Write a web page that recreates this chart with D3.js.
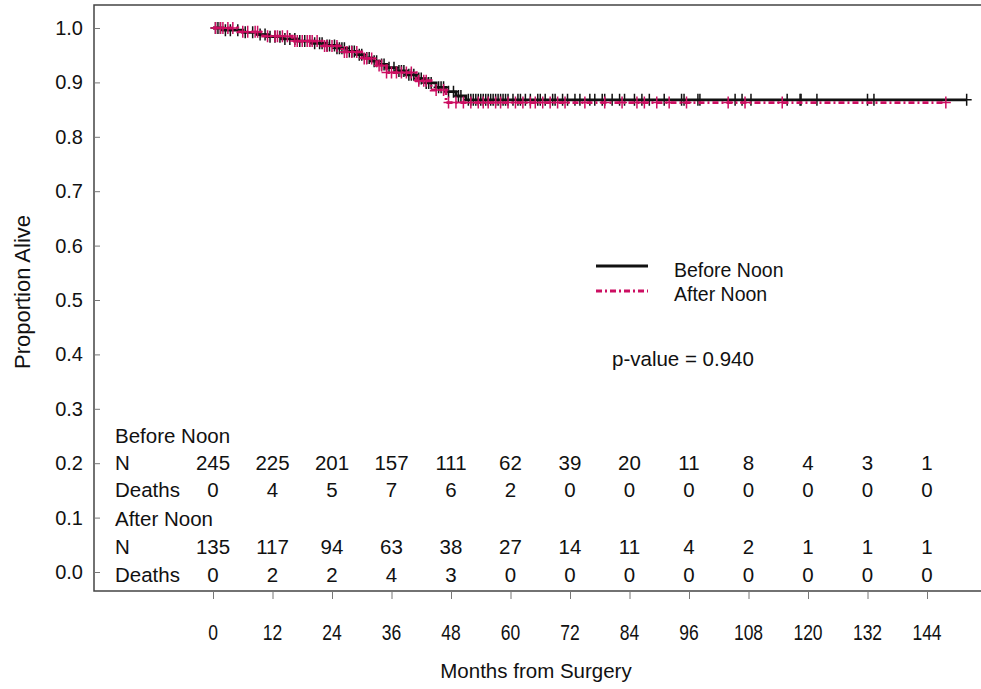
<!DOCTYPE html>
<html>
<head>
<meta charset="utf-8">
<script src="https://cdn.jsdelivr.net/npm/d3@7"></script>
<style>
  body { margin: 0; background: #fff; }
  text { font-family: Arial, "Liberation Sans", Helvetica, sans-serif; fill: #111; }
</style>
</head>
<body>
<div class="chart"></div>
<script>
const width = 981, height = 689;

// tick labels
const monthTicks = [0, 12, 24, 36, 48, 60, 72, 84, 96, 108, 120, 132, 144];
const propTicks = [0, 0.1, 0.2, 0.3, 0.4, 0.5, 0.6, 0.7, 0.8, 0.9, 1.0];

// number at risk / deaths table
const beforeN = [245, 225, 201, 157, 111, 62, 39, 20, 11, 8, 4, 3, 1];
const beforeDeaths = [0, 4, 5, 7, 6, 2, 0, 0, 0, 0, 0, 0, 0];
const afterN = [135, 117, 94, 63, 38, 27, 14, 11, 4, 2, 1, 1, 1];
const afterDeaths = [0, 2, 2, 4, 3, 0, 0, 0, 0, 0, 0, 0, 0];

// Kaplan-Meier steps (month of death, survival after)
const beforeTimes = [0, 2, 6, 9, 11, 14, 17, 20, 23, 25, 27, 29, 30.5, 32, 33.5, 35, 37, 39, 41, 43, 45, 47, 49, 51, 152];
const beforeSurv = [1, 0.996, 0.992, 0.988, 0.984, 0.980, 0.976, 0.972, 0.968, 0.963, 0.957, 0.951, 0.945, 0.939, 0.933, 0.927, 0.921, 0.914, 0.907, 0.899, 0.891, 0.883, 0.875, 0.868, 0.868];
const afterTimes = [0, 5, 10, 16, 22, 26, 30, 33, 35, 41, 44, 47, 147.8];
const afterSurv = [1, 0.993, 0.985, 0.976, 0.967, 0.956, 0.944, 0.931, 0.918, 0.903, 0.886, 0.863, 0.863];

// censored times
const beforeCensor = [0.5, 1, 1.5, 2.5, 3.5, 5, 6.5, 8, 9.5, 10.5, 11.5,
  12.5, 13.5, 14.5, 15.5, 16.5, 17.5, 18.5, 19.5, 20.5, 21.5, 22, 23, 23.5,
  24.5, 25, 25.5, 26, 26.5, 27.5, 28, 28.5, 29.5, 30, 31, 31.5, 32.5, 33, 34, 34.5, 35.5,
  36.5, 37.5, 38, 38.5, 39.5, 40, 40.5, 41.5, 42, 43, 43.5, 44, 45.5, 46, 46.5, 47.5,
  48.5, 49.5, 50, 51.5, 52, 52.5, 53, 53.5, 54, 54.5, 55, 55.5, 56, 56.5, 57, 57.5, 58, 58.5, 59, 59.5,
  60.5, 61.5, 62, 63, 64, 65.5, 66, 67, 68.5, 69, 70.5, 71.5,
  73, 74, 76, 77, 78.5, 79, 80.5, 82, 83,
  85, 86.5, 88, 91, 94.5, 95,
  97.8, 98.2, 105.3, 106.7,
  108.5, 115.8, 118.4, 118.6, 121.8, 132, 133.3, 152];
const afterCensor = [0.5, 1.5, 2, 3, 4, 6, 7, 8.5, 9, 11,
  12.5, 13, 14, 15, 16.5, 17, 18, 19, 19.5, 20, 21, 22.5, 23,
  24, 25, 26.5, 27, 28, 29, 30.5, 31, 32, 33.5, 34, 35,
  36, 37, 38, 39, 40, 41.5, 42.5, 43, 45, 46.5, 47.5,
  49, 50.5, 52, 53.5, 54.5, 55.5, 57, 58, 59.5,
  61, 62.5, 64, 65, 66.5, 68, 69.5, 71,
  75, 79, 82.5,
  85.5, 87, 89.5, 92, 95.5,
  103.9, 107.3, 114.8, 147.8];

const black = "#111111", pink = "#cc0f62";

const svg = d3.select(".chart").append("svg")
  .attr("width", width)
  .attr("height", height);

const x = d3.scaleLinear().domain([0, 144]).range([213, 927]);
const y = d3.scaleLinear().domain([0, 1]).range([572, 28]);

const frameLeft = 94, frameTop = 5, frameBottom = 591;

// frame
svg.append("path")
  .attr("d", `M${width + 5},${frameTop} H${frameLeft} V${frameBottom} H${width + 5}`)
  .attr("fill", "none")
  .attr("stroke", "#444")
  .attr("stroke-width", 1.5);

// y axis (ticks inside)
const yAxis = svg.append("g")
  .attr("transform", `translate(${frameLeft},0)`)
  .call(d3.axisLeft(y).tickValues(propTicks).tickSize(-6).tickPadding(11).tickFormat(d3.format(".1f")));
yAxis.select(".domain").remove();
yAxis.selectAll(".tick line").attr("stroke", "#777");
yAxis.selectAll(".tick text")
  .style("font-size", "20px")
  .attr("fill", "#111")
  .attr("font-family", null);

// x axis (ticks outside, labels drawn separately)
const xAxis = svg.append("g")
  .attr("transform", `translate(0,${frameBottom})`)
  .call(d3.axisBottom(x).tickValues(monthTicks).tickSize(8).tickFormat(""));
xAxis.select(".domain").remove();
xAxis.selectAll(".tick line").attr("stroke", "#777");

svg.selectAll("text.xlab")
  .data(monthTicks)
  .enter()
  .append("text")
    .attr("class", "xlab")
    .attr("transform", d => `translate(${x(d)},640) scale(1,1.3)`)
    .attr("text-anchor", "middle")
    .style("font-size", "17.5px")
    .text(d => d);

// axis titles
svg.append("text")
  .attr("x", 536).attr("y", 678)
  .attr("text-anchor", "middle")
  .style("font-size", "20.5px")
  .text("Months from Surgery");

svg.append("text")
  .attr("transform", "translate(30,292) rotate(-90)")
  .attr("text-anchor", "middle")
  .style("font-size", "22px")
  .text("Proportion Alive");

// curves
const stepLine = d3.line()
  .x(d => x(d[0]))
  .y(d => y(d[1]))
  .curve(d3.curveStepAfter);

function survAt(times, surv, t) {
  let s = surv[0];
  for (let i = 0; i < times.length; i++) {
    if (times[i] <= t) s = surv[i];
  }
  return s;
}

function drawGroup(times, surv, censor, color, dash) {
  const pts = times.map((t, i) => [t, surv[i]]);
  svg.append("path")
    .attr("d", stepLine(pts))
    .attr("fill", "none")
    .attr("stroke", color)
    .attr("stroke-width", 2.8)
    .attr("stroke-dasharray", dash);

  svg.append("g").selectAll("path")
    .data(censor)
    .enter()
    .append("path")
      .attr("d", d => {
        const cx = x(d), cy = y(survAt(times, surv, d));
        return `M${cx - 5},${cy} H${cx + 5} M${cx},${cy - 6} V${cy + 6}`;
      })
      .attr("stroke", color)
      .attr("stroke-width", 1.5)
      .attr("fill", "none");
}

drawGroup(beforeTimes, beforeSurv, beforeCensor, black, null);
drawGroup(afterTimes, afterSurv, afterCensor, pink, "6,3,2,3");

// legend
svg.append("line")
  .attr("x1", 596).attr("x2", 648).attr("y1", 266).attr("y2", 266)
  .attr("stroke", black).attr("stroke-width", 2.8);
svg.append("line")
  .attr("x1", 596).attr("x2", 648).attr("y1", 291).attr("y2", 291)
  .attr("stroke", pink).attr("stroke-width", 2.8).attr("stroke-dasharray", "6,3,2,3");
svg.append("text").attr("x", 674).attr("y", 277).style("font-size", "19.5px").text("Before Noon");
svg.append("text").attr("x", 674).attr("y", 301).style("font-size", "19.5px").text("After Noon");

svg.append("text").attr("x", 612).attr("y", 366).style("font-size", "20.5px").text("p-value = 0.940");

// risk table
const rows = [
  { label: "Before Noon", y: 443, vals: null },
  { label: "N", y: 470, vals: beforeN },
  { label: "Deaths", y: 497, vals: beforeDeaths },
  { label: "After Noon", y: 526, vals: null },
  { label: "N", y: 554, vals: afterN },
  { label: "Deaths", y: 582, vals: afterDeaths }
];

rows.forEach(r => {
  svg.append("text")
    .attr("x", 115).attr("y", r.y)
    .style("font-size", "20.5px")
    .text(r.label);
  if (r.vals) {
    svg.selectAll(null)
      .data(r.vals)
      .enter()
      .append("text")
        .attr("x", (d, i) => x(monthTicks[i]))
        .attr("y", r.y)
        .attr("text-anchor", "middle")
        .style("font-size", "20.5px")
        .text(d => d);
  }
});
</script>
</body>
</html>
